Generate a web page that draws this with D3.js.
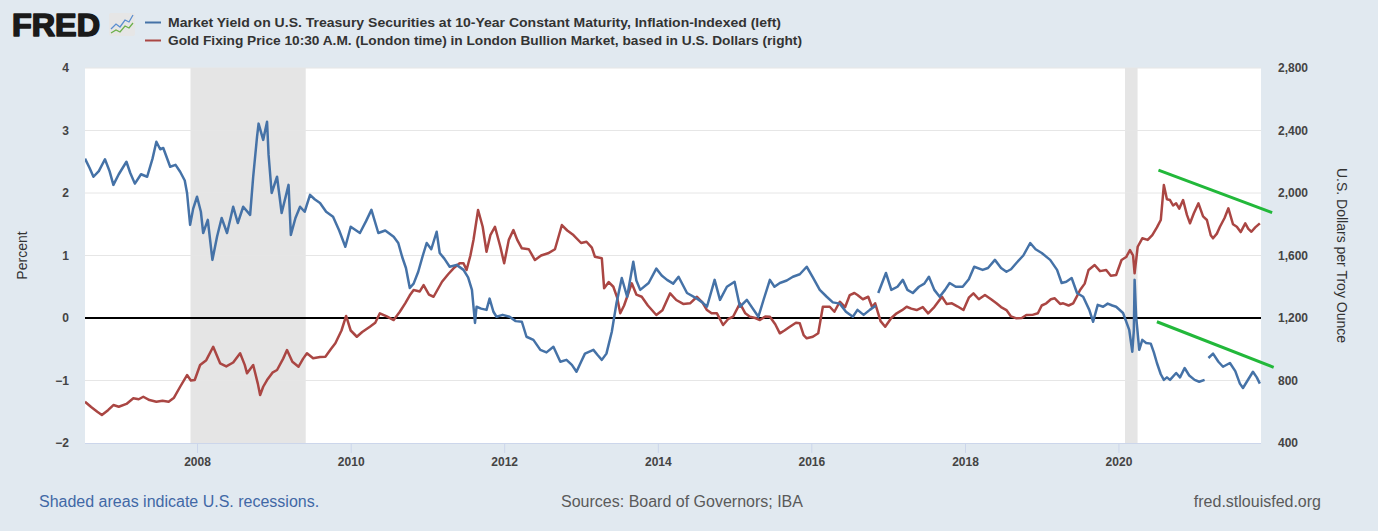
<!DOCTYPE html>
<html><head><meta charset="utf-8">
<script src="https://cdn.jsdelivr.net/npm/d3@7"></script>
<style>html,body{margin:0;padding:0;background:#e1e9f0;}svg{display:block;font-family:"Liberation Sans",Arial,sans-serif;}</style>
</head><body><svg id="c" width="1378" height="531"></svg>
<script>
// ---- data (decimal years) ----
const tipsYears = [2006.54,2006.60,2006.65,2006.72,2006.80,2006.86,2006.91,2006.98,2007.08,2007.13,2007.19,2007.27,2007.35,2007.42,2007.47,2007.52,2007.56,2007.65,2007.72,2007.78,2007.84,2007.87,2007.91,2007.95,2008.00,2008.05,2008.08,2008.14,2008.20,2008.26,2008.32,2008.39,2008.47,2008.53,2008.60,2008.69,2008.73,2008.78,2008.80,2008.86,2008.91,2008.93,2008.97,2009.04,2009.10,2009.19,2009.22,2009.28,2009.34,2009.40,2009.47,2009.53,2009.60,2009.68,2009.77,2009.85,2009.93,2010.00,2010.12,2010.20,2010.27,2010.36,2010.45,2010.56,2010.62,2010.67,2010.72,2010.77,2010.82,2010.88,2010.94,2010.99,2011.05,2011.12,2011.16,2011.22,2011.29,2011.38,2011.47,2011.53,2011.58,2011.62,2011.64,2011.70,2011.77,2011.81,2011.86,2011.90,2011.98,2012.07,2012.15,2012.23,2012.29,2012.38,2012.47,2012.55,2012.64,2012.73,2012.81,2012.88,2012.94,2013.00,2013.05,2013.16,2013.22,2013.27,2013.33,2013.40,2013.46,2013.53,2013.60,2013.68,2013.72,2013.77,2013.88,2013.98,2014.05,2014.12,2014.20,2014.27,2014.38,2014.51,2014.58,2014.64,2014.74,2014.81,2014.90,2015.00,2015.07,2015.16,2015.31,2015.38,2015.46,2015.52,2015.59,2015.68,2015.76,2015.85,2015.94,2016.02,2016.11,2016.20,2016.28,2016.37,2016.45,2016.54,2016.60,2016.68,2016.76,2016.84,2016.855,2016.87,2016.97,2017.04,2017.12,2017.19,2017.25,2017.32,2017.40,2017.47,2017.53,2017.60,2017.67,2017.74,2017.80,2017.88,2017.97,2018.05,2018.12,2018.23,2018.30,2018.39,2018.47,2018.54,2018.60,2018.67,2018.76,2018.85,2018.92,2019.00,2019.11,2019.20,2019.26,2019.32,2019.39,2019.46,2019.54,2019.62,2019.67,2019.73,2019.80,2019.86,2019.92,2019.97,2020.06,2020.14,2020.18,2020.20,2020.21,2020.23,2020.27,2020.31,2020.36,2020.42,2020.46,2020.50,2020.55,2020.59,2020.63,2020.67,2020.75,2020.80,2020.86,2020.92,2020.99,2021.05,2021.12,2021.145,2021.17,2021.23,2021.30,2021.36,2021.45,2021.52,2021.58,2021.62,2021.68,2021.75,2021.80,2021.84];
const tipsValues = [2.55,2.40,2.26,2.35,2.54,2.35,2.13,2.30,2.50,2.32,2.15,2.30,2.26,2.55,2.82,2.70,2.72,2.42,2.45,2.34,2.20,2.00,1.49,1.75,1.94,1.70,1.36,1.57,0.93,1.30,1.60,1.36,1.78,1.52,1.78,1.65,2.26,2.90,3.11,2.85,3.14,2.61,2.00,2.26,1.68,2.13,1.33,1.60,1.78,1.70,1.97,1.90,1.84,1.70,1.62,1.40,1.14,1.46,1.36,1.55,1.73,1.36,1.40,1.30,1.20,0.98,0.80,0.48,0.55,0.74,1.00,1.20,1.10,1.38,1.04,0.95,0.82,0.85,0.77,0.65,0.45,-0.08,0.18,0.15,0.13,0.31,0.10,0.02,0.05,0.02,-0.05,-0.06,-0.30,-0.35,-0.51,-0.55,-0.46,-0.70,-0.67,-0.75,-0.86,-0.70,-0.57,-0.51,-0.60,-0.67,-0.57,-0.22,0.23,0.64,0.34,0.90,0.60,0.45,0.56,0.79,0.68,0.61,0.55,0.66,0.40,0.31,0.25,0.18,0.61,0.29,0.50,0.58,0.18,0.29,0.02,0.30,0.61,0.50,0.56,0.60,0.66,0.70,0.82,0.65,0.45,0.34,0.25,0.23,0.10,0.02,0.13,0.05,0.13,0.20,null,0.40,0.72,0.45,0.50,0.61,0.45,0.40,0.50,0.55,0.66,0.45,0.34,0.45,0.56,0.50,0.50,0.62,0.82,0.77,0.80,0.93,0.80,0.74,0.78,0.88,1.00,1.20,1.10,1.04,0.93,0.77,0.56,0.58,0.64,0.40,0.34,0.13,-0.06,0.21,0.18,0.23,0.20,0.18,0.08,-0.19,-0.54,-0.20,0.61,0.02,-0.51,-0.35,-0.40,-0.41,-0.55,-0.72,-0.90,-0.99,-0.95,-0.99,-0.88,-0.95,-0.80,-0.92,-0.99,-1.02,-0.99,null,-0.64,-0.57,-0.70,-0.78,-0.72,-0.85,-1.05,-1.12,-1.00,-0.86,-0.95,-1.05];

const goldYears = [2006.54,2006.62,2006.70,2006.76,2006.84,2006.91,2006.98,2007.08,2007.17,2007.24,2007.30,2007.38,2007.47,2007.55,2007.63,2007.70,2007.78,2007.87,2007.92,2007.97,2008.04,2008.12,2008.21,2008.30,2008.38,2008.47,2008.56,2008.62,2008.65,2008.73,2008.79,2008.82,2008.86,2008.91,2008.98,2009.04,2009.12,2009.17,2009.24,2009.32,2009.38,2009.43,2009.51,2009.60,2009.67,2009.74,2009.80,2009.88,2009.94,2010.00,2010.08,2010.15,2010.25,2010.32,2010.38,2010.47,2010.56,2010.64,2010.71,2010.77,2010.82,2010.90,2010.95,2011.02,2011.08,2011.19,2011.27,2011.34,2011.42,2011.47,2011.51,2011.56,2011.60,2011.66,2011.72,2011.77,2011.82,2011.88,2011.95,2012.00,2012.06,2012.12,2012.17,2012.23,2012.32,2012.40,2012.48,2012.57,2012.66,2012.75,2012.82,2012.90,2013.00,2013.07,2013.14,2013.18,2013.27,2013.30,2013.36,2013.42,2013.47,2013.51,2013.56,2013.60,2013.66,2013.72,2013.79,2013.87,2013.98,2014.06,2014.16,2014.24,2014.33,2014.42,2014.51,2014.58,2014.64,2014.70,2014.77,2014.85,2014.92,2014.98,2015.07,2015.14,2015.20,2015.27,2015.33,2015.40,2015.46,2015.53,2015.59,2015.65,2015.72,2015.80,2015.85,2015.90,2015.94,2016.02,2016.09,2016.15,2016.24,2016.30,2016.37,2016.44,2016.50,2016.56,2016.60,2016.67,2016.74,2016.79,2016.83,2016.90,2016.96,2017.04,2017.11,2017.18,2017.24,2017.30,2017.37,2017.45,2017.52,2017.60,2017.70,2017.76,2017.83,2017.90,2017.98,2018.05,2018.11,2018.18,2018.26,2018.34,2018.41,2018.47,2018.54,2018.60,2018.67,2018.74,2018.80,2018.88,2018.95,2019.00,2019.06,2019.12,2019.17,2019.24,2019.28,2019.35,2019.41,2019.46,2019.50,2019.56,2019.61,2019.69,2019.76,2019.84,2019.90,2019.97,2020.04,2020.10,2020.15,2020.19,2020.21,2020.25,2020.31,2020.38,2020.44,2020.50,2020.55,2020.59,2020.63,2020.67,2020.71,2020.75,2020.79,2020.84,2020.89,2020.93,2020.98,2021.04,2021.10,2021.15,2021.20,2021.23,2021.28,2021.32,2021.38,2021.43,2021.49,2021.54,2021.59,2021.65,2021.69,2021.73,2021.78,2021.84];
const goldValues = [664,630,600,579,610,643,632,650,686,680,696,675,664,670,664,690,760,835,800,803,899,930,1016,910,890,915,974,900,846,899,780,707,760,803,850,867,940,995,920,888,940,974,942,950,952,1000,1038,1120,1213,1120,1080,1110,1144,1170,1230,1210,1187,1240,1294,1345,1379,1370,1411,1350,1336,1432,1480,1518,1550,1550,1507,1600,1699,1891,1784,1624,1730,1784,1656,1550,1700,1763,1700,1646,1640,1571,1600,1614,1640,1795,1760,1731,1680,1688,1650,1592,1582,1390,1430,1400,1330,1230,1280,1336,1422,1350,1336,1280,1219,1250,1358,1315,1290,1294,1336,1300,1251,1230,1230,1155,1195,1208,1294,1230,1208,1200,1187,1210,1208,1160,1102,1120,1144,1170,1166,1090,1070,1080,1102,1272,1272,1240,1304,1270,1347,1360,1347,1320,1336,1270,1294,1180,1144,1200,1230,1250,1272,1260,1251,1270,1230,1270,1336,1290,1294,1275,1251,1330,1358,1320,1347,1320,1294,1270,1251,1210,1198,1200,1219,1220,1230,1280,1294,1320,1326,1290,1294,1280,1294,1340,1379,1420,1507,1539,1500,1507,1470,1475,1571,1590,1635,1600,1486,1656,1710,1700,1731,1780,1827,2051,1960,1955,1920,1934,1900,1955,1860,1806,1870,1934,1850,1827,1730,1710,1740,1784,1840,1902,1800,1784,1750,1806,1770,1752,1780,1806];

const recessionStarts = ["2007-12-01","2020-02-01"];
const recessionEnds   = ["2009-06-01","2020-04-01"];

// hand-drawn trend annotations: [startYear, endYear], [startValue, endValue]
const goldTrendYears = [2020.52, 2022.0];
const goldTrendValues = [2147, 1874];
const tipsTrendYears = [2020.5, 2022.02];
const tipsTrendValues = [-0.06, -0.79];

const leftTicks = [-2,-1,0,1,2,3,4];
const rightTicks = [400,800,1200,1600,2000,2400,2800];

const legendLabels = [
  "Market Yield on U.S. Treasury Securities at 10-Year Constant Maturity, Inflation-Indexed (left)",
  "Gold Fixing Price 10:30 A.M. (London time) in London Bullion Market, based in U.S. Dollars (right)"
];

// ---- helpers ----
function yearToDate(y){
  const yr = Math.floor(y);
  const s = Date.UTC(yr,0,1), e = Date.UTC(yr+1,0,1);
  return new Date(s + (y-yr)*(e-s));
}

const svg = d3.select("#c");
const L = 85, R = 1261, T = 68, B = 443;
const x = d3.scaleUtc().domain([yearToDate(2006.54), yearToDate(2021.855)]).range([L,R]);
const yL = d3.scaleLinear().domain([-2,4]).range([B,T]);
const yR = d3.scaleLinear().domain([400,2800]).range([B,T]);

// plot background
svg.append("rect").attr("x",L).attr("y",T).attr("width",R-L).attr("height",B-T).attr("fill","#ffffff");

// recessions
svg.append("g").selectAll("rect").data(recessionStarts).join("rect")
  .attr("x",(d)=>x(new Date(d+"T00:00:00Z")))
  .attr("width",(d,i)=>x(new Date(recessionEnds[i]+"T00:00:00Z"))-x(new Date(d+"T00:00:00Z")))
  .attr("y",T).attr("height",B-T).attr("fill","#e5e5e5");

// gridlines
svg.append("g").selectAll("line").data(leftTicks.filter(d=>d>-2)).join("line")
  .attr("x1",L).attr("x2",R).attr("y1",d=>yL(d)).attr("y2",d=>yL(d))
  .attr("stroke","#e6e6e6").attr("stroke-width",1);

// axes
const tickFont = g => g.selectAll("text").attr("font-size","12px").attr("font-weight","bold").attr("fill","#444").attr("font-family","Liberation Sans, Arial, sans-serif");

svg.append("g").attr("transform",`translate(${L},0)`)
  .call(d3.axisLeft(yL).tickValues(leftTicks).tickSize(0).tickPadding(16).tickFormat(d3.format("d")))
  .call(g=>g.select(".domain").remove()).call(tickFont);

svg.append("g").attr("transform",`translate(${R},0)`)
  .call(d3.axisRight(yR).tickValues(rightTicks).tickSize(0).tickPadding(17).tickFormat(d3.format(",")))
  .call(g=>g.select(".domain").remove()).call(tickFont);

svg.append("g").attr("transform",`translate(0,${B})`)
  .call(d3.axisBottom(x).ticks(d3.utcYear.every(2)).tickSize(10).tickPadding(4).tickFormat(d3.utcFormat("%Y")))
  .call(g=>g.select(".domain").attr("stroke","#ccd6eb").attr("d",`M${L},0.5H${R}`))
  .call(g=>g.selectAll(".tick line").attr("stroke","#ccd6eb"))
  .call(tickFont);

// zero line
svg.append("line").attr("x1",L).attr("x2",R).attr("y1",yL(0)).attr("y2",yL(0)).attr("stroke","#000").attr("stroke-width",2);

// series
const tipsData = tipsYears.map((t,i)=>({d:yearToDate(t),v:tipsValues[i]}));
const goldData = goldYears.map((t,i)=>({d:yearToDate(t),v:goldValues[i]}));
svg.append("clipPath").attr("id","pc").append("rect").attr("x",L).attr("y",T).attr("width",R-L).attr("height",B-T);

svg.append("path").datum(goldData).attr("clip-path","url(#pc)")
  .attr("d",d3.line().defined(d=>d.v!=null).x(d=>x(d.d)).y(d=>yR(d.v)))
  .attr("fill","none").attr("stroke","#aa4643").attr("stroke-width",2.5).attr("stroke-linejoin","round");
svg.append("path").datum(tipsData).attr("clip-path","url(#pc)")
  .attr("d",d3.line().defined(d=>d.v!=null).x(d=>x(d.d)).y(d=>yL(d.v)))
  .attr("fill","none").attr("stroke","#4572a7").attr("stroke-width",2.5).attr("stroke-linejoin","round");

// trend annotations
svg.append("line")
  .attr("x1",x(yearToDate(goldTrendYears[0]))).attr("y1",yR(goldTrendValues[0]))
  .attr("x2",x(yearToDate(goldTrendYears[1]))).attr("y2",yR(goldTrendValues[1]))
  .attr("stroke","#22b83a").attr("stroke-width",3);
svg.append("line")
  .attr("x1",x(yearToDate(tipsTrendYears[0]))).attr("y1",yL(tipsTrendValues[0]))
  .attr("x2",x(yearToDate(tipsTrendYears[1]))).attr("y2",yL(tipsTrendValues[1]))
  .attr("stroke","#22b83a").attr("stroke-width",3);

// axis titles
svg.append("text").attr("transform",`translate(27,${(T+B)/2}) rotate(-90)`).attr("text-anchor","middle")
  .attr("font-size","14px").attr("fill","#333").text("Percent");
svg.append("text").attr("transform",`translate(1337,${(T+B)/2}) rotate(90)`).attr("text-anchor","middle")
  .attr("font-size","14px").attr("fill","#333").text("U.S. Dollars per Troy Ounce");

// header logo
svg.append("text").attr("x",12).attr("y",36).attr("font-size","31px").attr("font-weight","900")
  .attr("fill","#1a1a1a").attr("stroke","#1a1a1a").attr("stroke-width",1.6).attr("stroke-linejoin","round")
  .attr("textLength",88).attr("lengthAdjust","spacingAndGlyphs")
  .attr("font-family","Liberation Sans, Arial, sans-serif").text("FRED");
svg.append("rect").attr("x",109).attr("y",13).attr("width",26).attr("height",23).attr("rx",2).attr("fill","#e6e6e6");
svg.append("polyline").attr("points","111,29 116,24 120,27 125,20 129,22 133,15").attr("fill","none").attr("stroke","#5b8fd0").attr("stroke-width",1.3);
svg.append("polyline").attr("points","111,33 116,30 120,32 125,26 129,28 133,23").attr("fill","none").attr("stroke","#6bb04a").attr("stroke-width",1.3);

// legend
const legColors = ["#4572a7","#aa4643"];
const legY = [22.5,40.5];
const legW = [613,634];
legendLabels.forEach((t,i)=>{
  svg.append("line").attr("x1",145).attr("x2",161).attr("y1",legY[i]).attr("y2",legY[i]).attr("stroke",legColors[i]).attr("stroke-width",2);
  svg.append("text").attr("x",168).attr("y",legY[i]+4.5).attr("font-size","13px").attr("font-weight","bold")
    .attr("fill","#333").attr("textLength",legW[i]).attr("lengthAdjust","spacingAndGlyphs").text(t);
});

// footer
svg.append("text").attr("x",39).attr("y",507).attr("font-size","16px").attr("fill","#4168a6").text("Shaded areas indicate U.S. recessions.");
svg.append("text").attr("x",682).attr("y",507).attr("text-anchor","middle").attr("font-size","16px").attr("fill","#5a5a5a").text("Sources: Board of Governors; IBA");
svg.append("text").attr("x",1321).attr("y",507).attr("text-anchor","end").attr("font-size","16px").attr("fill","#5a5a5a").text("fred.stlouisfed.org");
</script></body></html>
